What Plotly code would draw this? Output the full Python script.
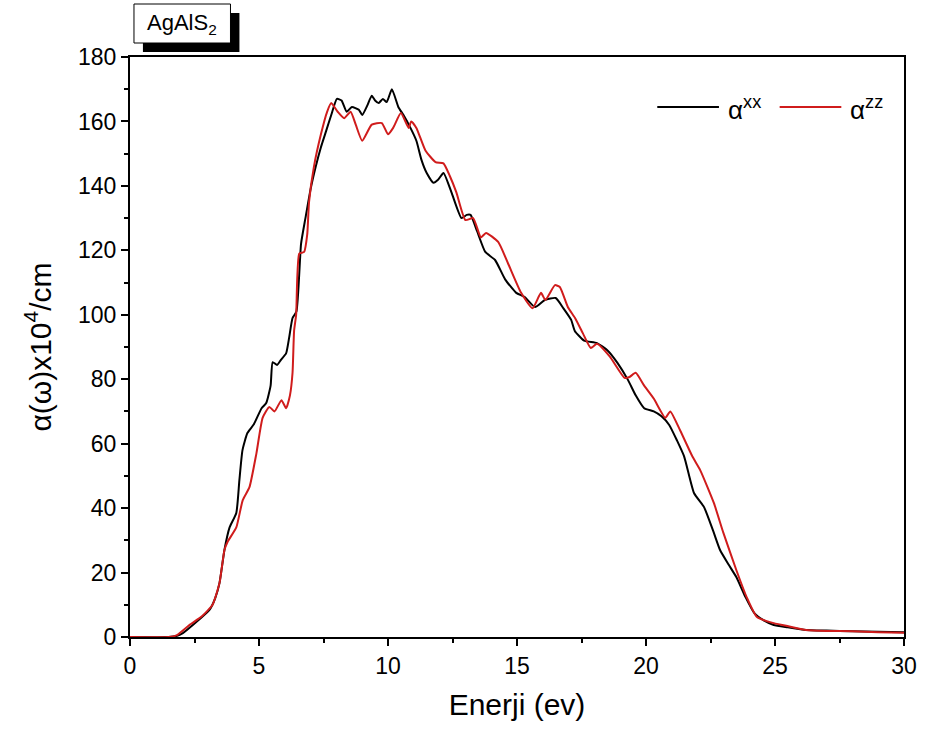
import plotly.graph_objects as go

# alpha_xx (black)
energy_xx = [0, 1.5, 1.8, 2.05, 2.58, 3.08, 3.3, 3.47, 3.66, 3.86, 4.12, 4.24, 4.36, 4.55, 4.8, 5.1, 5.28, 5.45, 5.53, 5.7, 5.85, 6.05, 6.17, 6.3, 6.45, 6.63, 6.8, 7.0, 7.2, 7.4, 7.6, 7.8, 8.02, 8.2, 8.4, 8.6, 8.87, 9.0, 9.2, 9.37, 9.5, 9.64, 9.8, 9.95, 10.15, 10.4, 10.6, 10.87, 11.1, 11.3, 11.5, 11.76, 11.95, 12.15, 12.46, 12.85, 13.05, 13.2, 13.45, 13.77, 14.15, 14.54, 14.97, 15.3, 15.7, 16.08, 16.5, 16.8, 17.1, 17.24, 17.6, 18.1, 18.5, 18.9, 19.3, 19.6, 19.93, 20.3, 20.6, 20.9, 21.2, 21.48, 21.86, 22.25, 22.6, 22.87, 23.2, 23.5, 23.85, 24.2, 24.6, 24.95, 25.5, 26.2, 27, 28, 29, 30]
alpha_xx = [0, 0, 0.3, 1.2, 4.7, 8.4, 12, 16.8, 27, 34, 38.5, 48.7, 58, 63.3, 66, 71, 72.6, 78, 85.3, 84.4, 86, 88, 93, 99, 101, 122, 130, 139, 146, 152, 157, 162, 167, 166.5, 163, 164.5, 163.6, 162, 165, 168, 166.5, 165.7, 167, 166, 170, 164.5, 162, 158, 154, 148, 144, 141, 142, 144, 138, 130, 131, 131, 126, 119.5, 117, 111, 106.8, 105.5, 102.4, 104.6, 105.2, 102, 98.4, 95, 92, 91.2, 89, 85, 79.8, 75, 71, 70, 68.5, 65.8, 61, 56, 44.7, 40.3, 33, 27, 22.5, 18.6, 12.5, 7.4, 5, 3.7, 3, 2.2, 2, 1.8, 1.6, 1.5]

# alpha_zz (red)
energy_zz = [0, 1.5, 1.8, 2.3, 2.8, 3.2, 3.47, 3.66, 3.78, 4.12, 4.37, 4.63, 4.9, 5.14, 5.4, 5.6, 5.87, 6.05, 6.2, 6.3, 6.36, 6.44, 6.56, 6.75, 6.87, 6.94, 7.13, 7.4, 7.64, 7.8, 8.05, 8.3, 8.55, 8.75, 9.0, 9.37, 9.76, 10.0, 10.2, 10.5, 10.8, 10.9, 11.1, 11.45, 11.84, 12.15, 12.4, 12.65, 13.0, 13.3, 13.6, 13.8, 14.27, 14.65, 15.16, 15.6, 15.93, 16.1, 16.47, 16.66, 16.97, 17.25, 17.55, 17.86, 18.1, 18.6, 19.17, 19.36, 19.6, 19.93, 20.3, 20.75, 20.94, 21.33, 21.8, 22.1, 22.63, 23.0, 23.5, 23.9, 24.3, 24.95, 25.6, 26.2, 27, 28, 29, 30]
alpha_zz = [0, 0, 0.5, 3.7, 6.5, 10, 16.8, 27, 29.5, 34, 42.5, 46.5, 57, 68, 71.4, 70, 73.5, 71, 75, 82, 95, 100, 119, 119.5, 125, 135, 146, 156, 163, 165.7, 163, 161, 163, 159, 154, 159, 159.5, 156, 158, 162.6, 158, 160, 158, 151, 147.4, 147, 143, 138, 129.4, 130, 124, 125.4, 122.6, 116, 106.8, 102, 106.8, 104.6, 109.2, 108.6, 102.4, 99, 94.3, 89.7, 91, 87, 80.4, 80.7, 82, 78, 74, 68, 70, 64, 56, 51.8, 41.6, 32.3, 20.8, 12.4, 6.2, 4.3, 3.2, 2.2, 1.9, 1.8, 1.5, 1.3]

x_ticks = [0, 5, 10, 15, 20, 25, 30]
y_ticks = [0, 20, 40, 60, 80, 100, 120, 140, 160, 180]

series_names = ["α<sup>xx</sup>", "α<sup>zz</sup>"]
series_colors = ["#000000", "#d01c1c"]

font_family = "Liberation Sans, Arial, sans-serif"

fig = go.Figure()
fig.add_trace(go.Scatter(x=energy_xx, y=alpha_xx, mode="lines", name=series_names[0],
                         line=dict(color=series_colors[0], width=2, shape="spline", smoothing=0.5)))
fig.add_trace(go.Scatter(x=energy_zz, y=alpha_zz, mode="lines", name=series_names[1],
                         line=dict(color=series_colors[1], width=2, shape="spline", smoothing=0.5)))

fig.update_layout(
    width=929, height=731,
    margin=dict(l=130, r=21, t=57, b=94),
    paper_bgcolor="white", plot_bgcolor="white",
    font=dict(family=font_family, color="black"),
    showlegend=False,
    xaxis=dict(range=[0, 30], tickvals=x_ticks, ticks="outside", ticklen=7, tickwidth=2,
               tickcolor="black", showline=True, linecolor="black", linewidth=2, mirror=True,
               showgrid=False, zeroline=False, tickfont=dict(size=23),
               minor=dict(ticks="outside", ticklen=4, tickwidth=2, tickcolor="black", dtick=2.5),
               title=dict(text="Enerji (ev)", font=dict(size=30), standoff=16)),
    yaxis=dict(range=[0, 180], tickvals=y_ticks, ticks="outside", ticklen=7, tickwidth=2,
               tickcolor="black", showline=True, linecolor="black", linewidth=2, mirror=True,
               showgrid=False, zeroline=False, tickfont=dict(size=23),
               minor=dict(ticks="outside", ticklen=4, tickwidth=2, tickcolor="black", dtick=10),
               title=dict(text="α(ω)x10<sup>4</sup>/cm", font=dict(size=30), standoff=18)),
)


def px_to_paper_x(px):
    return (px - 130) / 778.0


def px_to_paper_y(py):
    return (637 - py) / 580.0


# Manual legend
legend_line_x = [(660, 722), (783, 845)]
legend_text_x = [729, 852]
legend_y = 107
for (x0, x1), tx, name, col in zip(legend_line_x, legend_text_x, series_names, series_colors):
    fig.add_shape(type="line", xref="paper", yref="paper",
                  x0=px_to_paper_x(x0), x1=px_to_paper_x(x1),
                  y0=px_to_paper_y(legend_y), y1=px_to_paper_y(legend_y),
                  line=dict(color=col, width=2))
    fig.add_annotation(xref="paper", yref="paper", x=px_to_paper_x(tx), y=px_to_paper_y(legend_y + 2),
                       text=name, showarrow=False, xanchor="left", yanchor="middle",
                       font=dict(size=26, family=font_family, color="black"))

# Label box with shadow
fig.add_shape(type="rect", xref="paper", yref="paper",
              x0=px_to_paper_x(143), x1=px_to_paper_x(240), y0=px_to_paper_y(52), y1=px_to_paper_y(13),
              fillcolor="black", line=dict(color="black", width=0), layer="above")
fig.add_shape(type="rect", xref="paper", yref="paper",
              x0=px_to_paper_x(134), x1=px_to_paper_x(231), y0=px_to_paper_y(43), y1=px_to_paper_y(4),
              fillcolor="white", line=dict(color="black", width=1), layer="above")
fig.add_annotation(xref="paper", yref="paper", x=px_to_paper_x(182), y=px_to_paper_y(24),
                   text="AgAlS<sub>2</sub>", showarrow=False, xanchor="center", yanchor="middle",
                   font=dict(size=22, family=font_family, color="black"))

fig.write_html("out.html")
